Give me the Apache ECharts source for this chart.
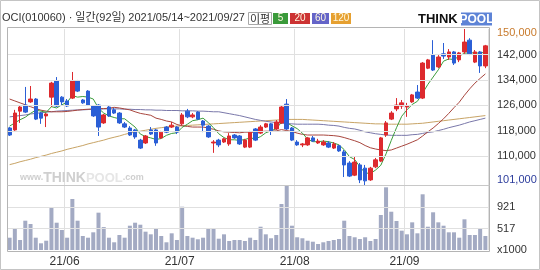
<!DOCTYPE html>
<html><head><meta charset="utf-8">
<script src="https://cdn.jsdelivr.net/npm/echarts@6/dist/echarts.min.js"></script>
<style>html,body{margin:0;padding:0;background:#fff}#c{width:540px;height:270px}</style>
</head><body><div id="c"></div>
<script>
const dates = ['05/14','05/17','05/18','05/20','05/21','05/24','05/25','05/26','05/27','05/28','05/31',
'06/01','06/02','06/03','06/04','06/07','06/08','06/09','06/10','06/11','06/14','06/15','06/16','06/17','06/18','06/21','06/22','06/23','06/24','06/25','06/28','06/29','06/30',
'07/01','07/02','07/05','07/06','07/07','07/08','07/09','07/12','07/13','07/14','07/15','07/16','07/19','07/20','07/21','07/22','07/23','07/26','07/27','07/28','07/29','07/30',
'08/02','08/03','08/04','08/05','08/06','08/09','08/10','08/11','08/12','08/13','08/17','08/18','08/19','08/20','08/23','08/24','08/25','08/26','08/27','08/30','08/31',
'09/01','09/02','09/03','09/06','09/07','09/08','09/09','09/10','09/13','09/14','09/15','09/16','09/17','09/23','09/24','09/27'];

const opens = [118900,118300,124200,126100,127100,128000,123600,122700,128600,133700,
128600,127400,128300,133700,127700,130500,125800,126100,120500,125500,
124600,123600,120200,118900,118300,115100,114200,118300,118300,115800,
119200,119200,119200,120200,124200,122400,123900,121100,119500,114200,
115100,114500,113900,116700,116400,112900,112900,118600,117300,119200,
120200,118600,120500,126400,118900,114500,113600,113600,115800,114200,
113600,114200,112600,113300,111400,107900,104100,107300,106300,102600,
106700,108500,116700,121700,124900,125800,125500,127100,130200,128300,
137700,141800,138100,142200,141200,142800,140300,142800,146500,139600,
142800,138400];
const closes = [116700,123600,125500,123900,128000,121700,122000,123300,133000,125800,
127100,125800,133700,130500,126800,126100,122700,119200,123000,122700,
123600,120500,119200,116700,116100,112600,116400,117000,114200,117600,
117600,119800,117600,123000,122400,123000,121700,119800,116100,114500,
113600,115500,116400,115800,113900,115100,117600,115100,119200,120200,
118000,120800,125500,118600,115100,113600,113900,115800,114800,114800,
114500,112900,113900,111700,107300,103800,108200,102600,102300,106300,
108900,115800,120500,123600,126100,126800,125800,129300,128300,139300,
140300,137100,141200,141500,142800,139300,142500,145900,142200,142800,
138400,144700];
const lows = [116400,118000,120500,123600,126800,121400,120200,119200,125500,125500,
126100,125500,128000,130200,126500,125800,122400,116400,120200,122400,
123300,120200,118900,116400,115500,112300,113900,116700,113300,115500,
117300,118900,117000,119800,122000,122000,121400,117600,115800,111100,
112900,114200,113300,115500,113600,112600,112600,114800,117000,118900,
116700,118300,120200,118300,114800,113300,112900,113300,114500,113900,
113300,112600,112300,111400,103500,103500,103800,101600,101000,102300,
106300,108200,116100,121400,124200,124900,122400,126800,128000,128000,
137400,136800,137700,140600,140300,138700,139600,142200,141800,139300,
136200,137700];
const highs = [119200,124600,125800,131800,132100,128300,123900,123600,133400,134900,
128900,128000,136500,134000,128000,130800,126100,126400,123300,125800,
125200,123900,120800,119500,118600,115500,116700,119200,118600,118000,
119500,120800,119500,123600,124900,123600,124200,121400,119800,115100,
115500,115800,117300,117000,116700,115500,118000,118900,119800,120500,
120500,121400,125800,128000,119200,115100,114200,116100,116400,115500,
115100,114800,114500,113600,112000,108500,109800,107900,107300,106700,
109500,116100,121100,124200,128300,127700,126800,129600,132400,139600,
140600,146500,141800,145600,143700,143100,142800,150000,147100,143400,
143100,145000];
const volumes = [346,524,302,668,605,346,240,289,922,630,
492,346,1079,668,378,346,448,820,547,346,
259,397,346,573,630,592,460,410,511,378,
259,429,302,933,378,346,316,346,511,511,
327,410,283,302,302,283,346,302,554,410,
335,397,984,1325,573,354,335,289,270,227,
259,283,302,321,668,378,354,321,354,283,
321,776,1300,838,662,479,410,637,429,1168,
554,827,637,573,448,448,346,694,397,397,
524,378];
const ma5 = [119500,120500,121500,122300,123500,124500,124200,123800,125600,125200,
126200,127000,129100,128600,128800,128600,128000,125100,123600,122700,
122200,121800,121800,120500,119200,117000,116200,115800,115300,115600,
116600,117200,117400,119100,120100,121200,121500,122000,120600,119000,
117100,115900,115200,115200,115000,115300,115800,115500,116200,117400,
118000,118700,120700,120600,119600,118700,117300,115400,114600,114600,
114800,114600,114200,113600,112100,109900,109000,106700,104800,104600,
105700,107200,110800,115000,119000,122600,124600,126300,127300,129900,
132600,134900,137200,139900,140600,140400,141500,142400,142500,142500,
142400,142800];
const ma20 = [128000,127400,126800,126200,125600,125000,124500,124200,124000,124000,
124000,124100,124300,124500,124700,124800,124900,125000,125000,125100,
125400,125200,124900,124600,124000,123500,123200,122900,122000,121600,
121100,120800,120000,119600,119400,119200,119200,119200,118900,118500,
118000,117700,117600,117500,117400,117600,117600,117500,117800,117900,
117900,118000,118400,118100,117800,117300,116900,116700,116700,116700,
116700,116600,116500,116300,115900,115400,114900,114300,113400,112700,
112300,112000,111800,112000,112600,113200,113800,114500,115200,116400,
117700,118900,120300,121800,123500,125300,127000,129200,131200,133000,
134500,135900];
const ma60 = [122400,122600,122800,123000,123300,123500,123700,123900,124000,124200,
124300,124400,124500,124600,124600,124700,124800,124800,124900,124900,
124900,124900,124800,124800,124700,124700,124600,124600,124500,124500,
124400,124400,124400,124300,124300,124300,124200,124200,124100,124000,
124000,123700,123400,123100,122800,122400,122000,121600,121300,121000,
120800,120600,120400,120300,120200,120100,120100,120100,120100,120100,
120000,119800,119700,119500,119100,118800,118600,118200,117700,117400,
117100,116900,116700,116600,116600,116600,116600,116800,116900,117200,
117500,117700,118100,118500,119000,119400,119800,120300,120800,121200,
121600,122000];
const ma120 = [107400,107800,108300,108700,109100,109600,110000,110400,110900,111300,
111700,112200,112600,113000,113400,113900,114300,114700,115100,115600,
116000,116400,116900,117300,117600,117900,118200,118500,118800,119000,
119200,119400,119500,119600,119700,119800,119900,120000,120100,120200,
120300,120400,120500,120600,120700,120800,120900,121000,121100,121200,
121300,121400,121500,121600,121600,121600,121600,121500,121400,121300,
121200,121100,121000,120900,120800,120700,120600,120500,120400,120300,
120200,120200,120100,120100,120100,120100,120100,120200,120300,120400,
120600,120800,121000,121200,121400,121600,121800,122000,122200,122400,
122600,122800];
const priceTicks = [101000,110000,118000,126000,134000,142000,150000];
const volTicks = [113,517,921,1325];
const volUnit = 'x1000';
const maNames = ['5','20','60','120'];
const titleText = 'OCI(010060) · 일간(92일) 2021/05/14~2021/09/27';

const FONT = '"Liberation Sans", Arial, sans-serif';
const CJK = '"Noto Sans CJK KR", "Noto Sans", sans-serif';
const MIXED = '"Liberation Sans", "Noto Sans CJK KR", sans-serif';
const GRID = '#e0e0e0';
const fmt = v => String(v).replace(/\B(?=(\d{3})+(?!\d))/g, ',');
const isMonthStart = i => i > 0 && dates[i].slice(0,2) !== dates[i-1].slice(0,2);

const chart = echarts.init(document.getElementById('c'), null, {renderer: 'canvas'});
const maColors = ['#3c9d3c', '#a8463e', '#7a78aa', '#c8a466'];
const legendColors = ['#3a9a3a', '#cc3333', '#6464c8', '#e6a030'];

const legendGraphics = [];
legendGraphics.push({type:'rect', shape:{x:248.5,y:12.5,width:23,height:12}, style:{fill:'#fff', stroke:'#a8a8a8'}});
legendGraphics.push({type:'text', style:{text:'이평', x:260, y:18.5, align:'center', verticalAlign:'middle', font:'11px ' + CJK, fill:'#333'}});
const boxX = [273, 290, 312, 331], boxW = [15, 20, 17, 20];
maNames.forEach((n, k) => {
  legendGraphics.push({type:'rect', shape:{x:boxX[k], y:13, width:boxW[k], height:11}, style:{fill:legendColors[k]}});
  legendGraphics.push({type:'text', style:{text:n, x:boxX[k] + boxW[k]/2, y:18.5, align:'center', verticalAlign:'middle', font:'10px ' + FONT, fill:'#fff8e0'}});
});

const option = {
  animation: false,
  backgroundColor: '#ffffff',
  grid: [
    {left: 7, top: 29, width: 481, height: 156},
    {left: 7, top: 186, width: 481, height: 64}
  ],
  xAxis: [
    {type:'category', gridIndex:0, data:dates, boundaryGap:true,
     axisLine:{show:false}, axisTick:{show:false, interval:isMonthStart}, axisLabel:{show:false},
     splitLine:{show:true, interval:(i)=>isMonthStart(i), lineStyle:{color:GRID, width:1}}},
    {type:'category', gridIndex:1, data:dates, boundaryGap:true,
     axisLine:{show:false}, axisTick:{show:false, interval:isMonthStart},
     axisLabel:{show:true, interval:(i)=>isMonthStart(i), formatter:(v)=>'{m|21/' + v.slice(0,2) + '}', margin:6,
       rich:{m:{color:'#333', fontSize:12, fontFamily:FONT, padding:[0,5,0,0]}}},
     splitLine:{show:true, interval:(i)=>isMonthStart(i), lineStyle:{color:GRID, width:1}}}
  ],
  yAxis: [
    {type:'value', gridIndex:0, position:'right', min:priceTicks[0], max:priceTicks[priceTicks.length-1],
     axisLine:{show:false}, axisTick:{show:false}, splitLine:{show:false},
     axisLabel:{customValues:priceTicks, margin:9, fontSize:11, fontFamily:FONT, color:'#333',
       formatter:(v)=> v === priceTicks[priceTicks.length-1] ? '{hi|' + fmt(v) + '}' : (v === priceTicks[0] ? '{lo|' + fmt(v) + '}' : '{n|' + fmt(v) + '}'),
       rich:{
         n:{color:'#333', fontSize:11, fontFamily:FONT},
         hi:{color:'#c87a2c', fontSize:11, fontFamily:FONT, padding:[8,0,0,0]},
         lo:{color:'#2c3c9c', fontSize:11, fontFamily:FONT, padding:[0,0,10,0]}
       }}},
    {type:'value', gridIndex:1, position:'right', min:volTicks[0], max:volTicks[volTicks.length-1], interval:volTicks[1]-volTicks[0],
     axisLine:{show:false}, axisTick:{show:false}, splitLine:{show:false},
     axisLabel:{margin:9, fontSize:11, fontFamily:FONT, color:'#333',
       formatter:(v)=> v === volTicks[0] ? volUnit : (v === volTicks[volTicks.length-1] ? '' : String(v))}}
  ],
  series: [
    {type:'line', xAxisIndex:0, yAxisIndex:0, data:[], z:0, silent:true,
     markLine:{silent:true, symbol:['none','none'], label:{show:false}, animation:false,
       lineStyle:{color:GRID, type:'solid', width:1},
       data: priceTicks.slice(1, -1).map(v => ({yAxis:v}))}},
    {type:'line', xAxisIndex:1, yAxisIndex:1, data:[], z:0, silent:true,
     markLine:{silent:true, symbol:['none','none'], label:{show:false}, animation:false,
       lineStyle:{color:GRID, type:'solid', width:1},
       data: volTicks.slice(1, -1).map(v => ({yAxis:v}))}},
    {type:'bar', xAxisIndex:1, yAxisIndex:1, data:volumes, barWidth:4, itemStyle:{color:'#a3aac3'}, z:2},
    {type:'line', xAxisIndex:0, yAxisIndex:0, data:ma120, showSymbol:false, symbol:'none', lineStyle:{color:maColors[3], width:1}, z:2},
    {type:'line', xAxisIndex:0, yAxisIndex:0, data:ma60, showSymbol:false, symbol:'none', lineStyle:{color:maColors[2], width:1}, z:2},
    {type:'line', xAxisIndex:0, yAxisIndex:0, data:ma20, showSymbol:false, symbol:'none', lineStyle:{color:maColors[1], width:1}, z:2},
    {type:'line', xAxisIndex:0, yAxisIndex:0, data:ma5, showSymbol:false, symbol:'none', lineStyle:{color:maColors[0], width:1}, z:2},
    {type:'candlestick', xAxisIndex:0, yAxisIndex:0, barWidth:4, z:3,
     data: opens.map((o, i) => [o, closes[i], lows[i], highs[i]]),
     itemStyle:{color:'#dd2a2e', color0:'#2b5fd6', borderColor:'#dd2a2e', borderColor0:'#2b5fd6', borderWidth:1}}
  ],
  graphic: [
    {type:'rect', z:100, shape:{x:0.5, y:0.5, width:539, height:269}, style:{fill:'none', stroke:'#c4c4c4'}},
    {type:'rect', z:100, shape:{x:7.5, y:27.5, width:482, height:224}, style:{fill:'none', stroke:'#b4b4b4'}},
    {type:'line', z:100, shape:{x1:7.5, y1:185.5, x2:489.5, y2:185.5}, style:{stroke:'#c8c8c8'}},
    {type:'text', z:100, style:{text:titleText, x:2, y:17.5, verticalAlign:'middle', font:'11px ' + MIXED, fill:'#333'}},
    ...legendGraphics.map(g => Object.assign({z:100}, g)),
    {type:'text', z:100, style:{text:'THINK', x:418, y:19.5, verticalAlign:'middle', font:'bold 13px ' + FONT, fill:'#111'}},
    {type:'rect', z:100, shape:{x:461, y:12.5, width:31, height:13}, style:{fill:'#5d83d6'}},
    {type:'text', z:100, style:{text:'POOL', x:476.5, y:19.5, align:'center', verticalAlign:'middle', font:'bold 12px ' + FONT, fill:'#fff'}},
    {type:'text', z:1, style:{text:'{a|www.}{b|THINK}{c|POOL}{a|.com}', x:20, y:178, verticalAlign:'middle',
      rich:{a:{fontSize:9, fontFamily:FONT, fill:'#cfcfcf', fontWeight:'bold'},
            b:{fontSize:14, fontFamily:FONT, fill:'#cfcfcf', fontWeight:'bold'},
            c:{fontSize:13, fontFamily:FONT, fill:'#e6e6e6', fontWeight:'bold'}}}}
  ]
};
chart.setOption(option);
</script>
</body></html>
